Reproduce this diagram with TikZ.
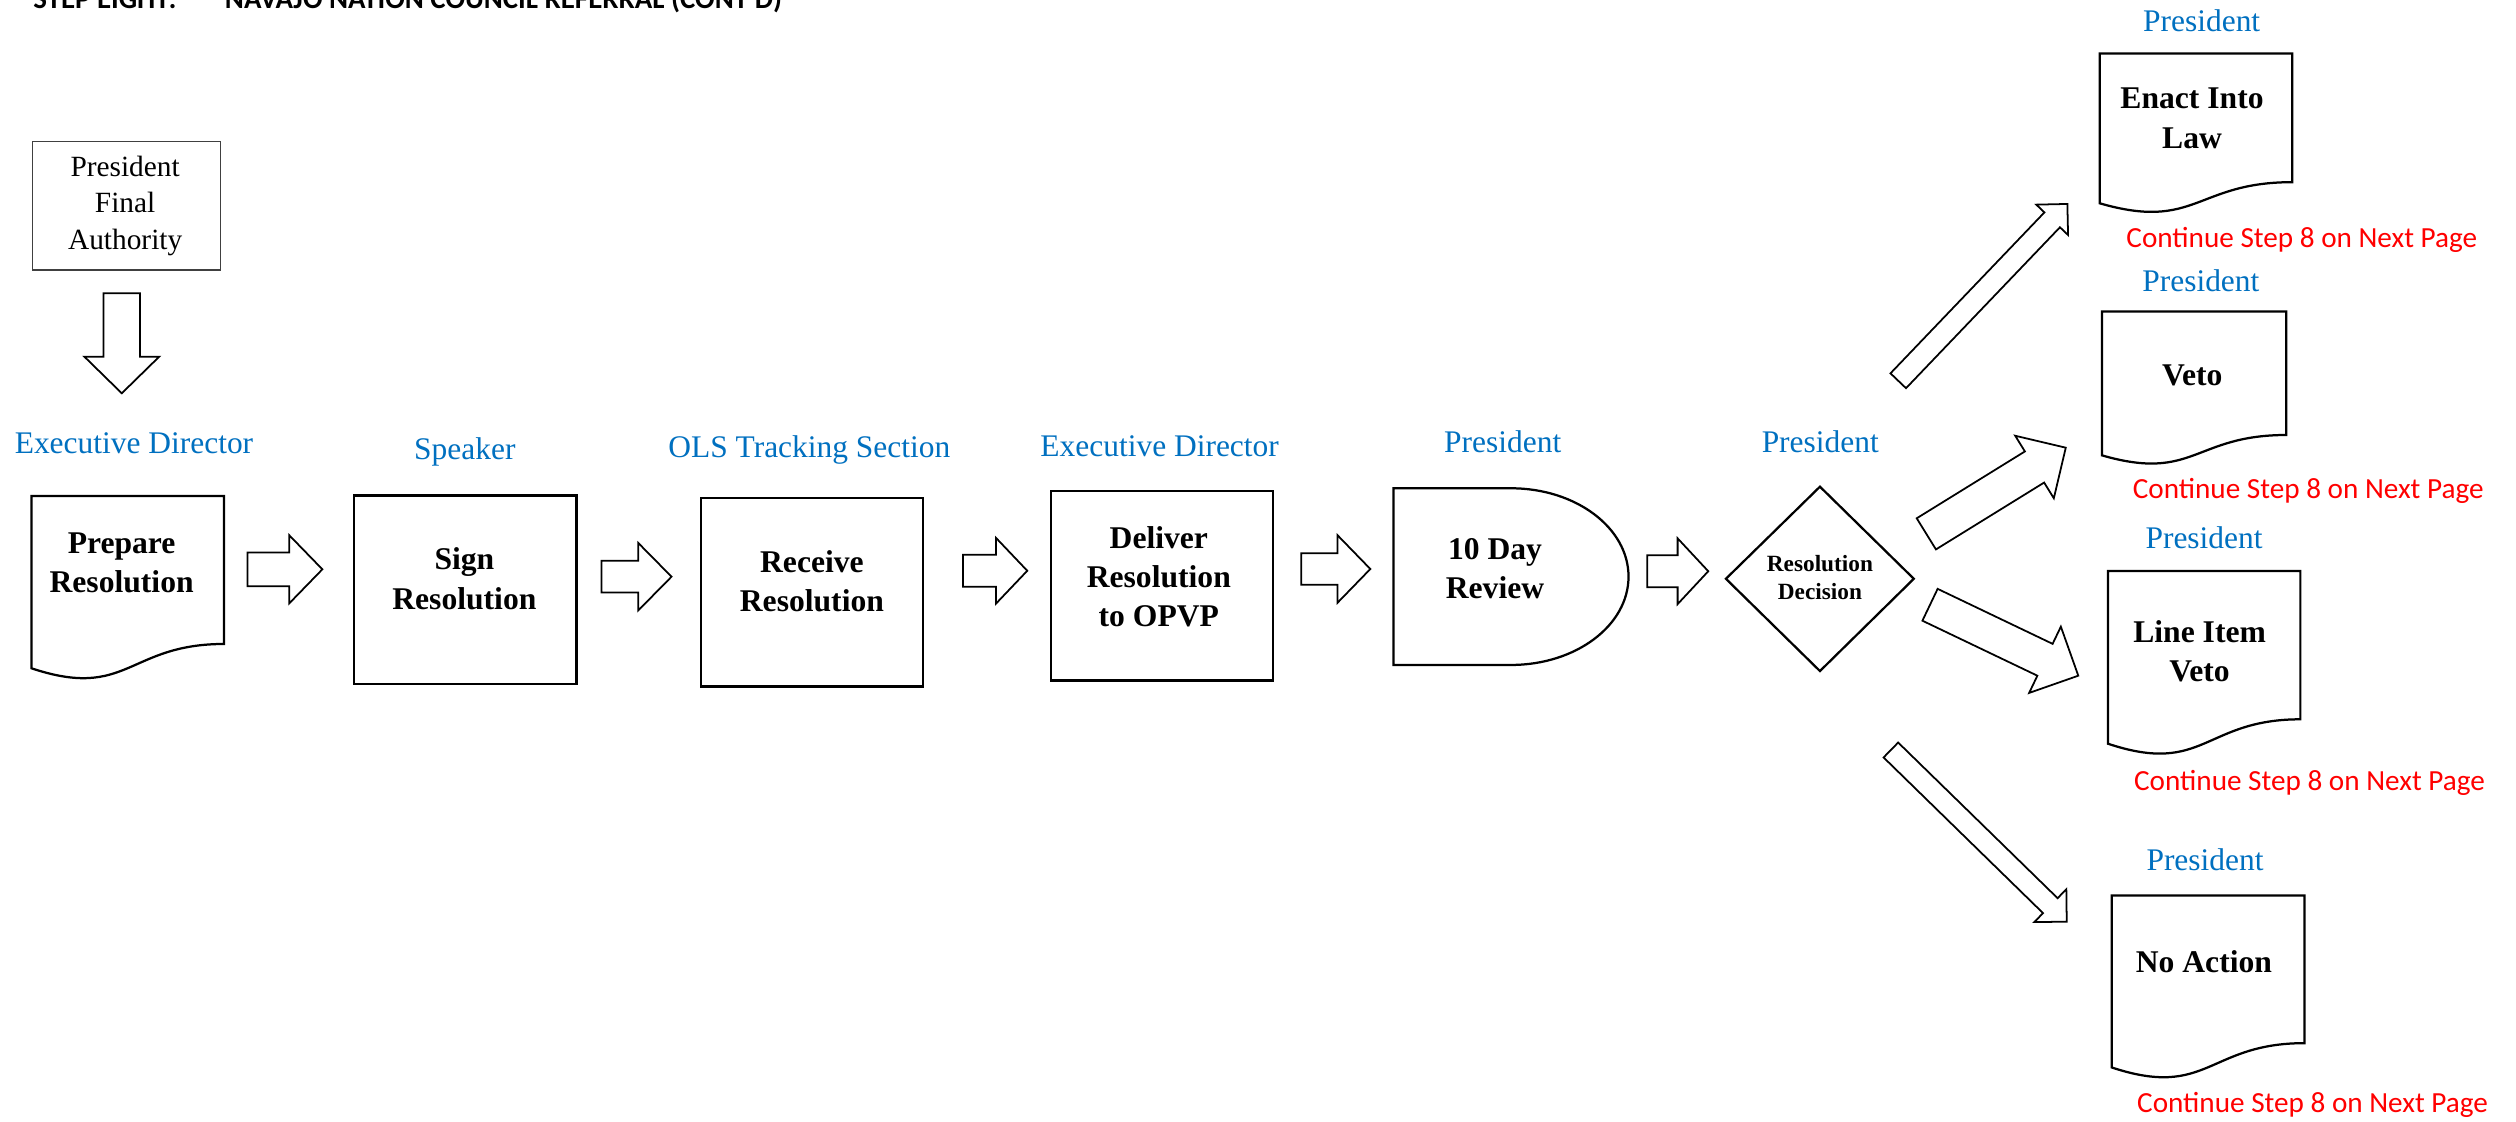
\documentclass[tikz,border=0pt]{standalone}
\usepackage{fontspec}
\setmainfont{Liberation Serif}
\newfontfamily\carl{Carlito}
\usetikzlibrary{calc}
\definecolor{lblue}{RGB}{0,112,192}
\definecolor{lred}{RGB}{255,0,0}
\newcommand\ml[1]{\begin{tabular}[t]{@{}c@{}}#1\end{tabular}}
\newcommand\docshape[4]{%
  \pgfmathsetmacro\dxa{#1+#3}\pgfmathsetmacro\dya{#2+0.802*#4}%
  \pgfmathsetmacro\dxm{#1+0.5*#3}\pgfmathsetmacro\dyb{#2+1.1075*#4}%
  \pgfmathsetmacro\dyc{#2+0.934*#4}%
  \draw[shapeline] (#1,#2) -- (\dxa,#2) -- (\dxa,\dya) .. controls (\dxm,\dya) and (\dxm,\dyb) .. (#1,\dyc) -- cycle;}
\newcommand\blockarrow[5]{%
  \coordinate (ba-n) at ($(#2)!#5pt!(#1)$);
  \draw[arrowline] ($(#1)!#3pt!90:(#2)$) -- ($(ba-n)!#3pt!-90:(#1)$) -- ($(ba-n)!#4pt!-90:(#1)$) -- (#2)
    -- ($(ba-n)!#4pt!90:(#1)$) -- ($(ba-n)!#3pt!90:(#1)$) -- ($(#1)!#3pt!-90:(#2)$) -- cycle;}
\tikzset{
  shapeline/.style={draw=black, line width=1.4pt, line join=miter},
  arrowline/.style={draw=black, line width=1.1pt, fill=white, line join=miter},
  role/.style={text=lblue, font=\fontsize{19.6}{23}\selectfont, anchor=base, inner sep=0},
  boldtxt/.style={font=\fontsize{19.7}{24.4}\selectfont\bfseries, anchor=base, inner sep=0},
  smallbold/.style={font=\fontsize{14.5}{17.6}\selectfont\bfseries, anchor=base, inner sep=0},
  contd/.style={text=lred, font=\carl\fontsize{18.2}{22}\selectfont, anchor=base west, inner sep=0},
  titletxt/.style={font=\carl\bfseries\fontsize{18}{22}\selectfont, anchor=base west, inner sep=0},
  rectbox/.style={shapeline, anchor=north west, inner sep=0},
}
\begin{document}
\begin{tikzpicture}[x=1pt,y=-1pt]
\useasboundingbox (0,0) rectangle (1568,699);
\fill[white] (0,0) rectangle (1568,699);

% title
\node[titletxt] (t1) at (20.6,5.6) {STEP EIGHT:};
\node[titletxt] (t2) at (140,5.6) {NAVAJO NATION COUNCIL REFERRAL (CONT'D)};

% authority box
\node[draw=black!75, line width=1pt, anchor=north west, inner sep=0, minimum width=117.3pt, minimum height=79.9pt] (authbox) at (19.7,87.7) {};
\node[font=\fontsize{18.3}{22.6}\selectfont, anchor=base, inner sep=0] (auth) at (78,110.1) {\ml{President\\Final\\Authority}};

% role labels
\node[role] (r1) at (83.5,282.5) {Executive Director};
\node[role] (r2) at (289.7,286.3) {Speaker};
\node[role] (r3) at (504.4,285) {OLS Tracking Section};
\node[role] (r4) at (722.7,284.6) {Executive Director};
\node[role] (r5) at (936.5,281.9) {President};
\node[role] (r6) at (1134.4,281.9) {President};
\node[role] (r7) at (1372.1,19.6) {President};
\node[role] (r8) at (1371.6,181.4) {President};
\node[role] (r9) at (1373.6,342) {President};
\node[role] (r10) at (1374.2,542.6) {President};

% main flow shapes
\docshape{19.7}{309.1}{119.9}{115}
\node[boldtxt] (prep) at (75.8,344.8) {\ml{Prepare\\Resolution}};

\node[rectbox, minimum width=138.7pt, minimum height=117.3pt] (signbox) at (219.8,308.1) {};
\node[boldtxt] (sign) at (289.4,355.2) {\ml{Sign\\Resolution}};

\node[rectbox, minimum width=138.7pt, minimum height=117.6pt] (recvbox) at (436,309.5) {};
\node[boldtxt] (recv) at (506,356.7) {\ml{Receive\\Resolution}};

\node[rectbox, minimum width=138.6pt, minimum height=118pt] (delbox) at (654.2,305.4) {};
\node[boldtxt] (deliv) at (722.2,341.7) {\ml{Deliver\\Resolution\\to OPVP}};

\draw[shapeline] (868.5,304.3) -- (941.7,304.3) arc[start angle=90,end angle=-90,x radius=73.2pt,y radius=55.05pt] -- (868.5,414.4) -- cycle;
\node[boldtxt] (review) at (931.7,348.6) {\ml{10 Day\\Review}};

\draw[shapeline] (1075.6,360.7) -- (1134.2,303.3) -- (1192.7,360.7) -- (1134.2,418.2) -- cycle;
\node[smallbold] (decision) at (1134.2,356.3) {\ml{Resolution\\Decision}};

% outcome documents
\docshape{1308.6}{33.4}{119.9}{99.9}
\node[boldtxt] (enact) at (1366.1,67.9) {\ml{Enact Into\\Law}};
\docshape{1309.9}{194.1}{114.9}{96}
\node[boldtxt] (veto) at (1366.3,240.4) {Veto};
\docshape{1313.7}{355.8}{119.9}{115.3}
\node[boldtxt] (lineitem) at (1370.8,400.5) {\ml{Line Item\\Veto}};
\docshape{1316}{558.1}{120.2}{114.7}
\node[boldtxt] (noaction) at (1373.5,605.9) {No Action};

% continue notes
\node[contd] (c1) at (1325,154) {Continue Step 8 on Next Page};
\node[contd] (c2) at (1329,310.5) {Continue Step 8 on Next Page};
\node[contd] (c3) at (1329.8,492.5) {Continue Step 8 on Next Page};
\node[contd] (c4) at (1331.7,693.1) {Continue Step 8 on Next Page};

% arrow end points
\coordinate (dns) at (75.9,182.8);   \coordinate (dne) at (75.9,245.1);
\coordinate (a1s) at (154.2,354.8);  \coordinate (a1e) at (200.9,354.8);
\coordinate (a2s) at (374.8,359.4);  \coordinate (a2e) at (418.5,359.4);
\coordinate (a3s) at (600.2,355.7);  \coordinate (a3e) at (640.2,355.7);
\coordinate (a4s) at (810.9,354.6);  \coordinate (a4e) at (854,354.6);
\coordinate (a5s) at (1026.6,356);   \coordinate (a5e) at (1064.6,356);
\coordinate (d1s) at (1183,237.3);   \coordinate (d1e) at (1288.4,127.1);
\coordinate (d2s) at (1200.5,332.7); \coordinate (d2e) at (1287.4,279);
\coordinate (d3s) at (1202.8,376.9); \coordinate (d3e) at (1295.2,421.1);
\coordinate (d4s) at (1178.4,467.4); \coordinate (d4e) at (1288,574.4);

\blockarrow{dns}{dne}{11.4}{23.3}{22.8}
\blockarrow{a1s}{a1e}{10.5}{21.2}{20.6}
\blockarrow{a2s}{a2e}{9.9}{21}{20.7}
\blockarrow{a3s}{a3e}{10}{20.5}{19.5}
\blockarrow{a4s}{a4e}{9.8}{21}{20.4}
\blockarrow{a5s}{a5e}{10}{20.5}{19.1}
\blockarrow{d1s}{d1e}{6.7}{13.7}{13.7}
\blockarrow{d2s}{d2e}{11.4}{22.9}{22.9}
\blockarrow{d3s}{d3e}{11}{22.9}{23}
\blockarrow{d4s}{d4e}{6.5}{14.3}{14.3}
\end{tikzpicture}
\end{document}
